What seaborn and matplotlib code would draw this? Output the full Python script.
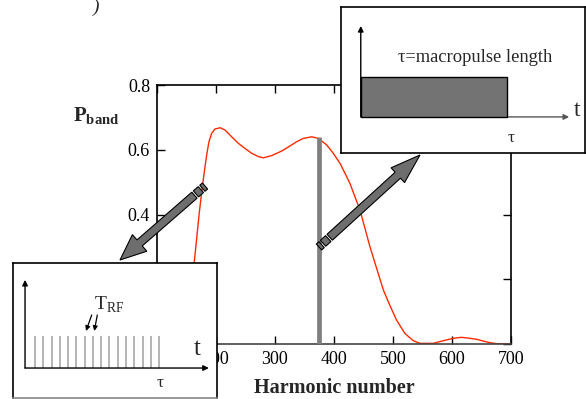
import numpy as np
import pandas as pd
import matplotlib
matplotlib.use("Agg")
import matplotlib.pyplot as plt
import seaborn as sns
from matplotlib.patches import Polygon, Rectangle
from matplotlib.transforms import IdentityTransform

# ---------------- data ----------------
harmonic = [100, 130, 150, 163.2, 167.3, 171.2, 175.8, 180.2, 184.2, 188.1, 192.7,
            198.3, 206.8, 215.3, 226.6, 237.8, 249.2, 260.5, 271.7, 280.2, 294.4,
            311.4, 328.3, 336.8, 348.0, 362.2, 373.4, 387.6, 398.8, 410.2, 418.7,
            427, 444, 461, 483.6, 495, 506, 520, 534.5, 545.8, 568, 585, 602, 616,
            630.5, 642, 653, 664.5, 676, 698]
p_band = [0.0, 0.02, 0.10, 0.254, 0.327, 0.398, 0.470, 0.532, 0.584, 0.625, 0.651,
          0.664, 0.668, 0.661, 0.640, 0.620, 0.604, 0.589, 0.579, 0.575, 0.582,
          0.596, 0.615, 0.625, 0.635, 0.640, 0.635, 0.615, 0.589, 0.558, 0.527,
          0.496, 0.414, 0.300, 0.167, 0.118, 0.074, 0.033, 0.010, 0.002, 0.002,
          0.010, 0.0175, 0.0206, 0.0175, 0.0145, 0.009, 0.004, 0.001, 0.0]
marker_harmonic = [374]
marker_height = [0.638]
x_ticks = [100, 200, 300, 400, 500, 600, 700]
y_ticks = [0.0, 0.2, 0.4, 0.6, 0.8]

# inset schematics
macro_start, macro_end, macro_level = 0.0, 1.0, 1.0
rf_pulse_times = list(range(16))
rf_pulse_height = 1.0

sns.set_style("ticks")
plt.rcParams["font.family"] = ["Liberation Serif", "DejaVu Serif"]
plt.rcParams["mathtext.fontset"] = "custom"
plt.rcParams["mathtext.rm"] = "Liberation Serif"
plt.rcParams["mathtext.bf"] = "Liberation Serif:bold"

W, H = 586, 399
fig = plt.figure(figsize=(W / 100, H / 100), dpi=100)
fig.patch.set_facecolor("white")


def fbox(x0, y0, x1, y1):
    """image pixel box (top-left origin) -> figure fraction rect"""
    return [x0 / W, (H - y1) / H, (x1 - x0) / W, (y1 - y0) / H]


# ---------------- main axes ----------------
ax = fig.add_axes(fbox(157, 85, 511, 344))
df = pd.DataFrame({"harmonic": harmonic, "p": p_band})
sns.lineplot(data=df, x="harmonic", y="p", ax=ax, color="#ff2a00", lw=1.0)
ax.vlines(marker_harmonic, 0, marker_height, color="#7f7f7f", lw=3.4, zorder=3)
ax.set_xlim(100, 700)
ax.set_ylim(0, 0.8)
ax.set_xticks(x_ticks)
ax.set_yticks(y_ticks)
ax.set_yticklabels([f"{v:.1f}" if v > 0 else "0" for v in y_ticks])
ax.tick_params(direction="in", length=6, width=1.0, top=True, right=True,
               labeltop=False, labelright=False, labelsize=13, pad=5, colors="black")
for s in ax.spines.values():
    s.set_color("black")
    s.set_linewidth(1.2)
ax.spines["bottom"].set_color("#444444")
ax.set_xlabel("")
ax.set_ylabel("")

fig.text(334 / W, (H - 388) / H, "Harmonic number", ha="center", va="center",
         fontsize=14.5, fontweight="bold")
fig.text(73 / W, (H - 121) / H, r"$\mathbf{P}_{\mathbf{band}}$", ha="left",
         va="baseline", fontsize=15)
fig.text(93 / W, (H - 12) / H, ")", ha="left", va="baseline", fontsize=14,
         style="italic")


# ---------------- big arrows (figure pixels) ----------------
def big_arrow(tail, tip, half_w, head_hw, head_len, pieces):
    t = np.array([tail[0], H - tail[1]], float)
    p = np.array([tip[0], H - tip[1]], float)
    d = p - t
    L = np.hypot(*d)
    u = d / L
    n = np.array([-u[1], u[0]])
    kw = dict(transform=IdentityTransform(), closed=True, facecolor="#6e6e6e",
              edgecolor="black", lw=0.8, zorder=5)
    s = 0.0
    for seg_len, gap in pieces:
        a, b = t + u * s, t + u * (s + seg_len)
        fig.patches.append(Polygon([a + n * half_w, b + n * half_w,
                                    b - n * half_w, a - n * half_w], **kw))
        s += seg_len + gap
    a = t + u * s
    hb = p - u * head_len
    verts = [a + n * half_w, hb + n * half_w, hb + n * head_hw, p,
             hb - n * head_hw, hb - n * half_w, a - n * half_w]
    fig.patches.append(Polygon(verts, **kw))


big_arrow((205, 186), (120, 260), 4.0, 11, 26, [(3.5, 2.0), (6.5, 2.0)])
big_arrow((319, 247), (420, 155), 4.0, 10, 30, [(3.5, 2.0), (7.0, 2.0)])

# ---------------- inset 1: macropulse ----------------
ax1 = fig.add_axes(fbox(341, 7, 585, 153))
ax1.set_xlim(0, 1)
ax1.set_ylim(0, 1)
ax1.set_xticks([])
ax1.set_yticks([])
ax1.set_facecolor("white")
for s in ax1.spines.values():
    s.set_color("black")
    s.set_linewidth(1.2)
x0, y0 = 0.081, 0.247
ax1.annotate("", xy=(x0, 0.87), xytext=(x0, y0),
             arrowprops=dict(arrowstyle="-|>", color="black", lw=1.0,
                             mutation_scale=8, shrinkA=0, shrinkB=0))
ax1.annotate("", xy=(0.935, y0), xytext=(x0, y0),
             arrowprops=dict(arrowstyle="-|>", color="#555555", lw=1.0,
                             mutation_scale=8, shrinkA=0, shrinkB=0))
span = 0.679 - x0
ax1.add_patch(Rectangle((x0 + macro_start * span, y0), (macro_end - macro_start) * span,
                        macro_level * 0.274, facecolor="#737373", edgecolor="black",
                        lw=1.0, zorder=3))
ax1.text(0.549, 0.651, "τ=macropulse length", ha="center", va="center", fontsize=13.3)
ax1.text(0.968, 0.29, "t", ha="center", va="center", fontsize=17)
ax1.text(0.697, 0.10, "τ", ha="center", va="center", fontsize=12.5)

# ---------------- inset 2: RF pulse train ----------------
ax2 = fig.add_axes(fbox(13, 263, 217, 398))
ax2.set_xlim(0, 1)
ax2.set_ylim(0, 1)
ax2.set_xticks([])
ax2.set_yticks([])
ax2.set_facecolor("white")
for s in ax2.spines.values():
    s.set_color("black")
    s.set_linewidth(1.2)
ax2.spines["bottom"].set_color("#888888")
bx, by = 0.059, 0.222
ax2.annotate("", xy=(bx, 0.875), xytext=(bx, by),
             arrowprops=dict(arrowstyle="-|>", color="black", lw=1.0,
                             mutation_scale=8, shrinkA=0, shrinkB=0))
ax2.annotate("", xy=(0.96, by), xytext=(bx, by),
             arrowprops=dict(arrowstyle="-|>", color="black", lw=1.0,
                             mutation_scale=8, shrinkA=0, shrinkB=0))
pulse_u = [0.108 + i * (0.716 - 0.108) / 15 for i in rf_pulse_times]
ax2.vlines(pulse_u, by, by + rf_pulse_height * 0.237, color="#a0a0a0", lw=1.1)
ax2.text(0.395, 0.69, r"$\mathrm{T}_{\mathrm{RF}}$", ha="left", va="center", fontsize=14)
for (xa, ya), (xb, yb) in [((91.7, 315), (86, 331)), ((97.3, 315), (94.3, 331))]:
    ax2.annotate("", xy=((xb - 13) / 204, (398 - yb) / 135),
                 xytext=((xa - 13) / 204, (398 - ya) / 135),
                 arrowprops=dict(arrowstyle="-|>", color="black", lw=0.9,
                                 mutation_scale=7, shrinkA=0, shrinkB=0))
ax2.text(0.902, 0.36, "t", ha="center", va="center", fontsize=18)
ax2.text(0.72, 0.11, "τ", ha="center", va="center", fontsize=12.5)

fig.savefig("out.png", dpi=100, facecolor="white")
